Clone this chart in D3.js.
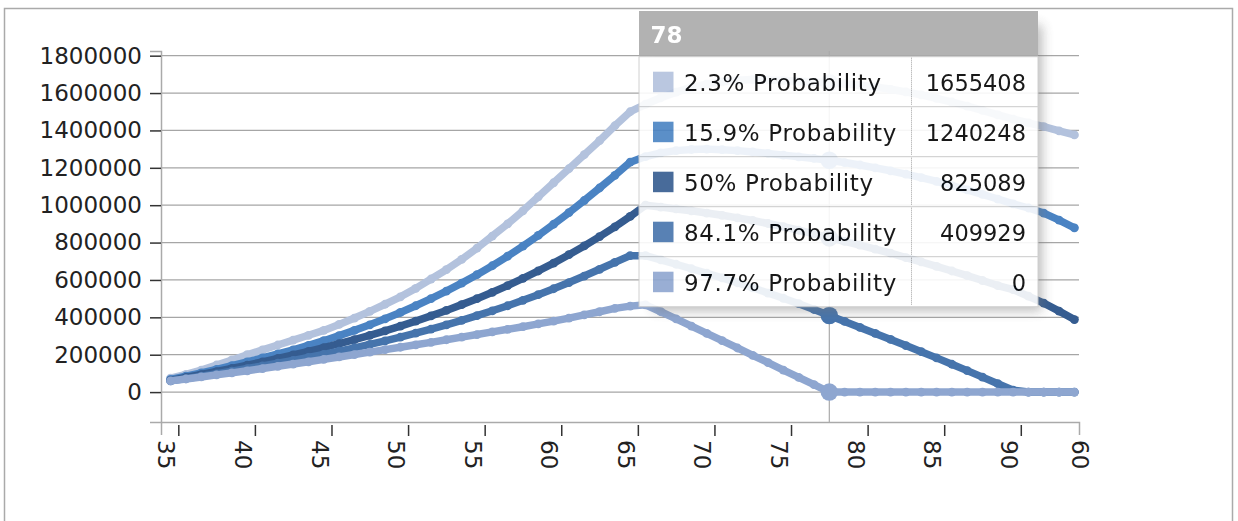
<!DOCTYPE html>
<html>
<head>
<meta charset="utf-8">
<script src="https://cdn.jsdelivr.net/npm/d3@7"></script>
<style>
  html, body { margin: 0; padding: 0; background: #fff; }
  svg { display: block; font-family: "DejaVu Sans", Verdana, sans-serif; }
</style>
</head>
<body>
<svg id="chart" width="1238" height="521"></svg>
<script>
// Ages on the x axis (one category per year)
const ages = [35,36,37,38,39,40,41,42,43,44,45,46,47,48,49,50,51,52,53,54,
              55,56,57,58,59,60,61,62,63,64,65,66,67,68,69,70,71,72,73,74,
              75,76,77,78,79,80,81,82,83,84,85,86,87,88,89,90,91,92,93,94];

const seriesNames = ["2.3% Probability", "15.9% Probability", "50% Probability",
                     "84.1% Probability", "97.7% Probability"];
const seriesColors = ["#b3c2dd", "#4a83c3", "#355c90", "#4674ac", "#8ea6d0"];

const p023 = [75000,95000,118000,145000,172000,200000,226000,252000,278000,304000,
  330000,362000,396000,432000,470000,510000,555000,605000,655000,710000,
  770000,835000,900000,970000,1045000,1120000,1195000,1270000,1345000,1425000,
  1500000,1540000,1575000,1605000,1630000,1648000,1660000,1668000,1672000,1670000,
  1667000,1663000,1659000,1655408,1650000,1642000,1632000,1620000,1606000,1590000,
  1572000,1552000,1530000,1507000,1483000,1460000,1440000,1420000,1398000,1376000];
const p159 = [68000,85000,103000,122000,142000,162000,183000,204000,226000,250000,
  275000,302000,330000,360000,392000,426000,462000,500000,540000,583000,
  628000,676000,727000,781000,838000,898000,960000,1025000,1092000,1160000,
  1230000,1260000,1280000,1292000,1298000,1300000,1297000,1292000,1285000,1277000,
  1268000,1259000,1250000,1240248,1228000,1215000,1200000,1184000,1166000,1147000,
  1127000,1105000,1082000,1058000,1033000,1007000,985000,958000,920000,879000];
const p500 = [63000,78000,94000,110000,127000,144000,162000,180000,199000,218000,
  238000,259000,281000,304000,328000,353000,380000,408000,437000,468000,
  500000,534000,570000,608000,648000,690000,735000,782000,832000,884000,
  940000,1000000,990000,980000,970000,958000,946000,932000,918000,902000,
  885000,866000,846000,825089,806000,786000,765000,743000,720000,697000,
  673000,648000,623000,597000,570000,548000,513000,476000,433000,388000];
const p841 = [60000,72000,85000,98000,112000,126000,140000,155000,170000,186000,
  202000,219000,237000,255000,274000,294000,315000,337000,360000,384000,
  409000,435000,462000,491000,521000,553000,586000,621000,657000,694000,
  730000,730000,707000,684000,660000,636000,611000,585000,558000,530000,
  502000,473000,442000,409929,378000,346000,314000,282000,249000,216000,
  183000,149000,115000,80000,45000,10000,0,0,0,0];
const p977 = [60000,70000,81000,92000,103000,114000,126000,138000,150000,162000,
  175000,188000,201000,214000,227000,240000,253000,266000,280000,294000,
  308000,322000,336000,350000,365000,380000,396000,413000,430000,448000,
  460000,467000,430000,392000,353000,314000,275000,236000,197000,158000,
  118000,79000,40000,0,0,0,0,0,0,0,
  0,0,0,0,0,0,0,0,0,0];

const seriesValues = [p023, p159, p500, p841, p977];
const yTicks = [0,200000,400000,600000,800000,1000000,1200000,1400000,1600000,1800000];
const xLabelIdx = [0,5,10,15,20,25,30,35,40,45,50,55,60];
const focusAge = 78;

const svg = d3.select("#chart");

// frame around the whole chart
svg.append("rect")
  .attr("x", 4.5).attr("y", 8.5).attr("width", 1228).attr("height", 540)
  .attr("fill", "none").attr("stroke", "#aaa").attr("stroke-width", 1.5);

const plotLeft = 161, plotRight = 1079, plotTop = 51, plotBottom = 422;
const x = d3.scaleLinear().domain([-0.63, ages.length - 0.7]).range([plotLeft, plotRight]);
const y = d3.scaleLinear().domain([-160000, 1825000]).range([plotBottom, plotTop]);
const band = x(1) - x(0);

// horizontal grid
svg.append("g").selectAll("line").data(yTicks).join("line")
  .attr("x1", plotLeft).attr("x2", plotRight)
  .attr("y1", d => y(d)).attr("y2", d => y(d))
  .attr("stroke", "#a6a6a6").attr("stroke-width", 1.2);

// y axis
const yAxis = svg.append("g").attr("transform", `translate(${plotLeft},0)`)
  .call(d3.axisLeft(y).tickValues(yTicks).tickFormat(d3.format("d"))
        .tickSizeInner(11).tickSizeOuter(11).tickPadding(8));
yAxis.select(".domain").attr("stroke", "#aaa").attr("stroke-width", 1.5);
yAxis.selectAll(".tick line").attr("stroke", "#333").attr("stroke-width", 1.5);
yAxis.selectAll(".tick text").attr("font-size", 23).attr("fill", "#222")
  .attr("font-family", "DejaVu Sans, Verdana, sans-serif");

// x axis: category ticks sit on the right edge of each band, labels rotated
const xAxis = svg.append("g").attr("transform", `translate(0,${plotBottom})`)
  .call(d3.axisBottom(x).tickValues(xLabelIdx)
        .tickFormat(i => i < ages.length ? String(ages[i]) : String(i))
        .tickSizeInner(0).tickSizeOuter(13));
xAxis.select(".domain").attr("stroke", "#aaa").attr("stroke-width", 1.5);
xAxis.selectAll(".tick").each(function(i) {
  const g = d3.select(this);
  const last = i >= ages.length;
  if (last) g.attr("transform", `translate(${plotRight},0)`);
  g.select("line").remove();
  if (!last) {
    g.append("line").attr("x1", band / 2).attr("x2", band / 2)
      .attr("y1", 3).attr("y2", 14).attr("stroke", "#333").attr("stroke-width", 1.5);
  }
  g.select("text")
    .attr("y", null).attr("dy", "0.36em")
    .attr("text-anchor", "start")
    .attr("transform", `translate(${last ? 1 : -4.5},18) rotate(90)`)
    .attr("font-size", 23).attr("fill", "#222")
    .attr("font-family", "DejaVu Sans, Verdana, sans-serif");
});

// focus line at the hovered age
const fi = ages.indexOf(focusAge);
svg.append("line")
  .attr("x1", x(fi)).attr("x2", x(fi)).attr("y1", plotTop).attr("y2", plotBottom)
  .attr("stroke", "#aaa").attr("stroke-width", 1.2);

// series lines and points
const line = d3.line().x((d, i) => x(i)).y(d => y(d));
const plot = svg.append("g");
seriesValues.forEach((vals, s) => {
  const g = plot.append("g");
  g.append("path").datum(vals).attr("d", line)
    .attr("fill", "none").attr("stroke", seriesColors[s]).attr("stroke-width", 7.5)
    .attr("stroke-linejoin", "round").attr("stroke-linecap", "round");
  g.selectAll("circle").data(vals).join("circle")
    .attr("cx", (d, i) => x(i)).attr("cy", d => y(d))
    .attr("r", (d, i) => i === fi ? 8.75 : 4.4)
    .attr("fill", seriesColors[s]);
});

// tooltip for the focused age
const tipX = 639, tipY = 11, tipW = 399, headH = 45.7, rowH = 50;
const tipH = headH + rowH * seriesNames.length;
const defs = svg.append("defs");
const f = defs.append("filter").attr("id", "tipShadow")
  .attr("x", "-20%").attr("y", "-20%").attr("width", "140%").attr("height", "140%");
f.append("feGaussianBlur").attr("stdDeviation", 6);

const tip = svg.append("g").attr("transform", `translate(${tipX},${tipY})`).attr("opacity", 0.9);
tip.append("rect").attr("x", 14).attr("y", 14).attr("width", tipW - 10).attr("height", tipH - 10)
  .attr("fill", "#777").attr("opacity", 0.55).attr("filter", "url(#tipShadow)");
tip.append("rect").attr("width", tipW).attr("height", headH).attr("fill", "#aaa");
tip.append("text").attr("x", 11.5).attr("y", 32.3).text(String(focusAge))
  .attr("fill", "#fff").attr("font-weight", "bold").attr("font-size", 23);

const rows = tip.selectAll("g.row").data(seriesNames).join("g")
  .attr("class", "row")
  .attr("transform", (d, k) => `translate(0,${headH + k * rowH})`);
rows.append("rect").attr("width", tipW).attr("height", rowH)
  .attr("fill", "#fff").attr("stroke", "#ccc").attr("stroke-width", 1);
rows.append("rect").attr("x", 14).attr("y", 15).attr("width", 20.5).attr("height", 20.5)
  .attr("fill", (d, k) => seriesColors[k]);
rows.append("text").attr("x", 45).attr("y", 34).text(d => d)
  .attr("font-size", 23).attr("letter-spacing", 0.65).attr("fill", "#000");
rows.append("line").attr("x1", 272.5).attr("x2", 272.5).attr("y1", 1).attr("y2", rowH - 1)
  .attr("stroke", "#999").attr("stroke-dasharray", "1,1");
rows.append("text").attr("x", 387).attr("y", 34).attr("text-anchor", "end")
  .text((d, k) => String(seriesValues[k][fi]))
  .attr("font-size", 22.5).attr("fill", "#000");
</script>
</body>
</html>
